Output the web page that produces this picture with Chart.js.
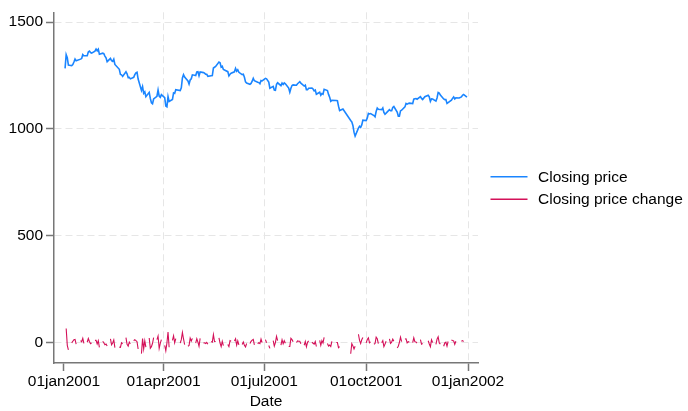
<!DOCTYPE html>
<html>
<head>
<meta charset="utf-8">
<script src="https://cdn.jsdelivr.net/npm/chart.js@4.4.1/dist/chart.umd.min.js"></script>
<style>
    html, body { margin: 0; padding: 0; background: #fff; }
</style>
</head>
<body>
<canvas id="sp500-chart" width="688" height="411"></canvas>
<script>
// trading days of 2001
var dates = [
    '2001-01-02','2001-01-03','2001-01-04','2001-01-05','2001-01-08','2001-01-09','2001-01-10','2001-01-11','2001-01-12','2001-01-16','2001-01-17','2001-01-18','2001-01-19','2001-01-22','2001-01-23','2001-01-24','2001-01-25','2001-01-26','2001-01-29','2001-01-30','2001-01-31',
    '2001-02-01','2001-02-02','2001-02-05','2001-02-06','2001-02-07','2001-02-08','2001-02-09','2001-02-12','2001-02-13','2001-02-14','2001-02-15','2001-02-16','2001-02-20','2001-02-21','2001-02-22','2001-02-23','2001-02-26','2001-02-27','2001-02-28',
    '2001-03-01','2001-03-02','2001-03-05','2001-03-06','2001-03-07','2001-03-08','2001-03-09','2001-03-12','2001-03-13','2001-03-14','2001-03-15','2001-03-16','2001-03-19','2001-03-20','2001-03-21','2001-03-22','2001-03-23','2001-03-26','2001-03-27','2001-03-28','2001-03-29','2001-03-30',
    '2001-04-02','2001-04-03','2001-04-04','2001-04-05','2001-04-06','2001-04-09','2001-04-10','2001-04-11','2001-04-12','2001-04-16','2001-04-17','2001-04-18','2001-04-19','2001-04-20','2001-04-23','2001-04-24','2001-04-25','2001-04-26','2001-04-27','2001-04-30',
    '2001-05-01','2001-05-02','2001-05-03','2001-05-04','2001-05-07','2001-05-08','2001-05-09','2001-05-10','2001-05-11','2001-05-14','2001-05-15','2001-05-16','2001-05-17','2001-05-18','2001-05-21','2001-05-22','2001-05-23','2001-05-24','2001-05-25','2001-05-29','2001-05-30','2001-05-31',
    '2001-06-01','2001-06-04','2001-06-05','2001-06-06','2001-06-07','2001-06-08','2001-06-11','2001-06-12','2001-06-13','2001-06-14','2001-06-15','2001-06-18','2001-06-19','2001-06-20','2001-06-21','2001-06-22','2001-06-25','2001-06-26','2001-06-27','2001-06-28','2001-06-29',
    '2001-07-02','2001-07-03','2001-07-05','2001-07-06','2001-07-09','2001-07-10','2001-07-11','2001-07-12','2001-07-13','2001-07-16','2001-07-17','2001-07-18','2001-07-19','2001-07-20','2001-07-23','2001-07-24','2001-07-25','2001-07-26','2001-07-27','2001-07-30','2001-07-31',
    '2001-08-01','2001-08-02','2001-08-03','2001-08-06','2001-08-07','2001-08-08','2001-08-09','2001-08-10','2001-08-13','2001-08-14','2001-08-15','2001-08-16','2001-08-17','2001-08-20','2001-08-21','2001-08-22','2001-08-23','2001-08-24','2001-08-27','2001-08-28','2001-08-29','2001-08-30','2001-08-31',
    '2001-09-04','2001-09-05','2001-09-06','2001-09-07','2001-09-10','2001-09-17','2001-09-18','2001-09-19','2001-09-20','2001-09-21','2001-09-24','2001-09-25','2001-09-26','2001-09-27','2001-09-28',
    '2001-10-01','2001-10-02','2001-10-03','2001-10-04','2001-10-05','2001-10-08','2001-10-09','2001-10-10','2001-10-11','2001-10-12','2001-10-15','2001-10-16','2001-10-17','2001-10-18','2001-10-19','2001-10-22','2001-10-23','2001-10-24','2001-10-25','2001-10-26','2001-10-29','2001-10-30','2001-10-31',
    '2001-11-01','2001-11-02','2001-11-05','2001-11-06','2001-11-07','2001-11-08','2001-11-09','2001-11-12','2001-11-13','2001-11-14','2001-11-15','2001-11-16','2001-11-19','2001-11-20','2001-11-21','2001-11-23','2001-11-26','2001-11-27','2001-11-28','2001-11-29','2001-11-30',
    '2001-12-03','2001-12-04','2001-12-05','2001-12-06','2001-12-07','2001-12-10','2001-12-11','2001-12-12','2001-12-13','2001-12-14','2001-12-17','2001-12-18','2001-12-19','2001-12-20','2001-12-21','2001-12-24','2001-12-26','2001-12-27','2001-12-28','2001-12-31'
];

var closePrice = [
    1283.27,1347.56,1333.34,1298.35,1295.86,1300.80,1313.27,1326.82,1318.55,1326.65,1329.47,1347.97,1342.54,1342.90,1360.40,1364.30,1357.51,1354.95,1364.17,1373.73,1366.01,
    1373.47,1349.47,1354.31,1352.26,1340.89,1332.53,1314.76,1330.31,1318.80,1315.92,1326.61,1301.53,1278.94,1255.27,1252.82,1245.86,1267.65,1257.94,1239.94,
    1241.23,1234.18,1241.41,1253.80,1261.89,1264.74,1233.42,1180.16,1197.66,1166.71,1173.56,1150.53,1170.81,1142.62,1122.14,1117.58,1139.83,1152.69,1182.17,1153.29,1147.95,1160.33,
    1145.87,1106.46,1103.25,1151.44,1128.43,1137.59,1168.38,1165.89,1183.50,1179.68,1191.81,1238.16,1253.69,1242.98,1224.36,1209.47,1228.75,1234.52,1253.05,1249.46,
    1266.44,1267.43,1248.58,1266.61,1263.51,1261.20,1255.54,1255.18,1245.67,1248.92,1249.44,1284.99,1288.49,1291.96,1312.83,1309.38,1289.05,1293.17,1277.89,1267.93,1248.08,1255.82,
    1260.67,1267.11,1283.57,1270.03,1276.96,1264.96,1254.39,1255.85,1241.60,1219.87,1214.36,1208.43,1212.58,1223.14,1237.04,1225.35,1218.60,1216.76,1211.07,1226.20,1224.38,
    1236.72,1234.45,1219.24,1190.59,1198.78,1181.52,1180.18,1208.14,1215.68,1202.45,1214.44,1207.71,1215.02,1210.85,1191.03,1171.65,1190.49,1202.93,1205.82,1204.52,1211.23,
    1215.93,1220.75,1214.35,1200.48,1204.40,1183.53,1183.43,1190.16,1191.29,1186.73,1178.02,1181.66,1161.97,1171.41,1157.26,1165.31,1162.09,1184.93,1179.21,1161.51,1148.56,1129.03,1133.58,
    1132.94,1131.74,1106.40,1085.78,1092.54,1038.77,1032.74,1016.10,984.54,965.80,1003.45,1012.27,1007.04,1018.61,1040.94,
    1038.55,1051.33,1072.28,1069.63,1071.38,1062.44,1056.75,1080.99,1097.43,1091.65,1089.98,1097.54,1077.09,1068.61,1073.48,1089.90,1084.78,1085.20,1100.09,1104.61,1078.30,1059.79,1059.78,
    1084.10,1087.20,1102.84,1118.86,1115.80,1118.54,1120.31,1118.33,1139.09,1141.21,1142.24,1138.65,1151.06,1142.66,1137.03,1150.34,1157.42,1149.50,1128.52,1140.20,1139.45,
    1129.90,1144.80,1170.35,1167.10,1158.31,1139.93,1136.76,1137.07,1119.38,1123.09,1134.36,1142.92,1149.56,1139.93,1144.89,1144.65,1149.37,1157.13,1161.02,1148.08
];

var priceChange = [
    null,64.29,-14.22,-34.99,-2.49,4.94,12.47,13.55,-8.27,8.10,2.82,18.50,-5.43,0.36,17.50,3.90,-6.79,-2.56,9.22,9.56,-7.72,
    7.46,-24.00,4.84,-2.05,-11.37,-8.36,-17.77,15.55,-11.51,-2.88,10.69,-25.08,-22.59,-23.67,-2.45,-6.96,21.79,-9.71,-18.00,
    1.29,-7.05,7.23,12.39,8.09,2.85,-31.32,-53.26,17.50,-30.95,6.85,-23.03,20.28,-28.19,-20.48,-4.56,22.25,12.86,29.48,-28.88,-5.34,12.38,
    -14.46,-39.41,-3.21,48.19,-23.01,9.16,30.79,-2.49,17.61,-3.82,12.13,46.35,15.53,-10.71,-18.62,-14.89,19.28,5.77,18.53,-3.59,
    16.98,0.99,-18.85,18.03,-3.10,-2.31,-5.66,-0.36,-9.51,3.25,0.52,35.55,3.50,3.47,20.87,-3.45,-20.33,4.12,-15.28,-9.96,-19.85,7.74,
    4.85,6.44,16.46,-13.54,6.93,-12.00,-10.57,1.46,-14.25,-21.73,-5.51,-5.93,4.15,10.56,13.90,-11.69,-6.75,-1.84,-5.69,15.13,-1.82,
    12.34,-2.27,-15.21,-28.65,8.19,-17.26,-1.34,27.96,7.54,-13.23,11.99,-6.73,7.31,-4.17,-19.82,-19.38,18.84,12.44,2.89,-1.30,6.71,
    4.70,4.82,-6.40,-13.87,3.92,-20.87,-0.10,6.73,1.13,-4.56,-8.71,3.64,-19.69,9.44,-14.15,8.05,-3.22,22.84,-5.72,-17.70,-12.95,-19.53,4.55,
    -0.64,-1.20,-25.34,-20.62,6.76,-53.77,-6.03,-16.64,-31.56,-18.74,37.65,8.82,-5.23,11.57,22.33,
    -2.39,12.78,20.95,-2.65,1.75,-8.94,-5.69,24.24,16.44,-5.78,-1.67,7.56,-20.45,-8.48,4.87,16.42,-5.12,0.42,14.89,4.52,-26.31,-18.51,-0.01,
    24.32,3.10,15.64,16.02,-3.06,2.74,1.77,-1.98,20.76,2.12,1.03,-3.59,12.41,-8.40,-5.63,13.31,7.08,-7.92,-20.98,11.68,-0.75,
    -9.55,14.90,25.55,-3.25,-8.79,-18.38,-3.17,0.31,-17.69,3.71,11.27,8.56,6.64,-9.63,4.96,-0.24,4.72,7.76,3.89,-12.94
];

var xTickDates = ['2001-01-01', '2001-04-01', '2001-07-01', '2001-10-01', '2002-01-01'];
var xTickLabels = ['01jan2001', '01apr2001', '01jul2001', '01oct2001', '01jan2002'];
var yTickValues = [0, 500, 1000, 1500];

var blue = '#1a85ff';
var red = '#d41159';
var axisGray = '#777777';
var gridGray = '#e6e6e6';
var fontFamily = '"Liberation Sans", Arial, Helvetica, sans-serif';

// days since 01jan2001
function dayNumber(s) {
    var p = s.split('-');
    return (Date.UTC(+p[0], +p[1] - 1, +p[2]) - Date.UTC(2001, 0, 1)) / 86400000;
}

var xTickDays = xTickDates.map(dayNumber);

function points(values) {
    return dates.map(function(d, i) {
        return { x: dayNumber(d), y: values[i] };
    });
}

// legend to the right of the plot, stata style (short line + label)
var sideLegend = {
    id: 'sideLegend',
    afterDraw: function(chart) {
        var c = chart.ctx;
        var area = chart.chartArea;
        var midY = (area.top + area.bottom) / 2;
        c.save();
        c.font = '15.5px ' + fontFamily;
        c.textBaseline = 'middle';
        c.fillStyle = '#000';
        chart.data.datasets.forEach(function(ds, i) {
            var y = midY - 11 + i * 22.5;
            c.strokeStyle = ds.borderColor;
            c.lineWidth = 1.5;
            c.beginPath();
            c.moveTo(area.right + 12.5, y);
            c.lineTo(area.right + 49.5, y);
            c.stroke();
            c.fillText(ds.label, area.right + 60, y + 1);
        });
        c.restore();
    }
};

var ctx = document.getElementById('sp500-chart').getContext('2d');
var chart = new Chart(ctx, {
    type: 'line',
    data: {
        datasets: [{
            label: 'Closing price',
            data: points(closePrice),
            borderColor: blue,
            backgroundColor: blue,
            borderWidth: 1.6,
            pointRadius: 0,
            tension: 0
        }, {
            label: 'Closing price change',
            data: points(priceChange),
            borderColor: red,
            backgroundColor: red,
            borderWidth: 1.1,
            pointRadius: 0,
            tension: 0,
            spanGaps: false,
            segment: {
                // line breaks over weekends and holidays
                borderColor: function(c) {
                    return (c.p1.parsed.x - c.p0.parsed.x > 1) ? 'rgba(0,0,0,0)' : undefined;
                }
            }
        }]
    },
    options: {
        responsive: false,
        devicePixelRatio: 1,
        animation: false,
        layout: { padding: { top: 9, left: 0, right: 210, bottom: 0 } },
        plugins: {
            tooltip: { enabled: false },
            legend: { display: false }
        },
        scales: {
            x: {
                type: 'linear',
                min: -9,
                max: 374,
                afterBuildTicks: function(scale) {
                    scale.ticks = xTickDays.map(function(v) { return { value: v }; });
                },
                afterFit: function(scale) { scale.height = 48; },
                ticks: {
                    color: '#000',
                    padding: 1,
                    maxRotation: 0,
                    font: { family: fontFamily, size: 15.5 },
                    callback: function(v) {
                        var i = xTickDays.indexOf(v);
                        return i >= 0 ? xTickLabels[i] : '';
                    }
                },
                grid: {
                    color: function(c) { return c.index === 0 ? 'rgba(0,0,0,0)' : gridGray; },
                    lineWidth: 1,
                    tickColor: axisGray,
                    tickWidth: 1.5,
                    tickLength: 8
                },
                border: { color: axisGray, width: 1.5, dash: [7, 4] },
                title: {
                    display: true,
                    text: 'Date',
                    color: '#000',
                    padding: { top: 0, bottom: 0 },
                    font: { family: fontFamily, size: 15.5 }
                }
            },
            y: {
                min: -97,
                max: 1546,
                afterBuildTicks: function(scale) {
                    scale.ticks = yTickValues.map(function(v) { return { value: v }; });
                },
                afterFit: function(scale) { scale.width = 54; },
                ticks: {
                    color: '#000',
                    padding: 3,
                    font: { family: fontFamily, size: 15.5 },
                    callback: function(v) { return String(v); }
                },
                grid: {
                    color: gridGray,
                    lineWidth: 1,
                    tickColor: axisGray,
                    tickWidth: 1.5,
                    tickLength: 8
                },
                border: { color: axisGray, width: 1.5, dash: [7, 4] }
            }
        }
    },
    plugins: [sideLegend]
});
</script>
</body>
</html>
